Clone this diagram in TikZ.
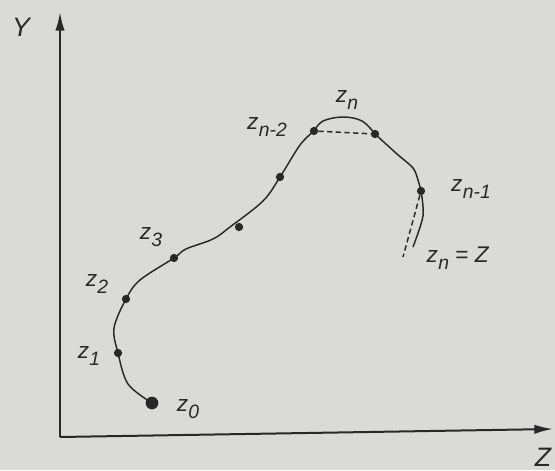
\documentclass[tikz,border=0pt]{standalone}
\usepackage{fontspec}
\setmainfont{Liberation Sans}
\usetikzlibrary{arrows.meta}
\definecolor{paper}{RGB}{218,219,215}
\definecolor{ink}{RGB}{40,40,40}
\newcommand{\zsb}[1]{\textit{z}\kern0.3pt\raisebox{-0.6ex}{\fontsize{14.5pt}{14.5pt}\selectfont\itshape #1}}
\begin{document}
\begin{tikzpicture}[x=0.75pt,y=-0.75pt,
  curve/.style={line width=1.1pt, ink},
  pt/.style={circle, fill=ink, inner sep=0pt, minimum size=6.2pt},
  bigpt/.style={circle, fill=ink, inner sep=0pt, minimum size=9.5pt},
  lab/.style={font=\fontsize{17pt}{17pt}\selectfont, inner sep=0pt, text=ink},
  axlab/.style={font=\fontsize{20pt}{20pt}\selectfont\itshape, inner sep=0pt, text=ink},
  axis/.style={line width=1.5pt, ink, -{Latex[length=14pt,width=7pt]}},
  dashline/.style={line width=1.1pt, ink, dashed, dash pattern=on 4pt off 2.5pt}]
\useasboundingbox (0,0) rectangle (555,470);
\fill[paper] (0,0) rectangle (555,470);
% axes
\coordinate (O) at (60,437);
\coordinate (Ytop) at (60,12);
\coordinate (Xend) at (553,429);
\draw[axis] (O) -- (Ytop);
\draw[axis] (O) -- (Xend);
\node[axlab] (ly) at (21,27) {Y};
\node[axlab] (lx) at (543,457) {Z};
% points
\node[bigpt] (z0) at (152,403) {};
\node[pt] (z1) at (118,353) {};
\node[pt] (z2) at (126,299) {};
\node[pt] (z3) at (174,258) {};
\node[pt] (p4) at (239,227) {};
\node[pt] (p5) at (280,177) {};
\node[pt] (zn2) at (314,131) {};
\node[pt] (zn) at (375,134) {};
\node[pt] (zn1) at (421,191) {};
% helper coordinates along the path
\coordinate (a1) at (128,384);
\coordinate (a2) at (114,328);
\coordinate (a3) at (140,280);
\coordinate (a4) at (186,249);
\coordinate (a5) at (213,239);
\coordinate (a6) at (230,227);
\coordinate (a7) at (263,201);
\coordinate (a8) at (300,145);
\coordinate (b1) at (323,121);
\coordinate (b2) at (343,117);
\coordinate (b3) at (362,121);
\coordinate (c1) at (397,154);
\coordinate (c2) at (413,168);
\coordinate (c3) at (418,180);
\coordinate (d1) at (423,216);
\coordinate (send) at (413,247);
\coordinate (dend) at (403,257);
% curve
\draw[curve] plot[smooth, tension=0.55] coordinates {(z0) (a1) (z1) (a2) (z2) (a3) (z3) (a4) (a5) (a6) (a7) (p5) (a8) (zn2)};
\draw[curve] plot[smooth, tension=0.6] coordinates {(zn2) (b1) (b2) (b3) (zn)};
\draw[curve] plot[smooth, tension=0.5] coordinates {(zn) (c1) (c2) (c3) (zn1)};
\draw[curve] plot[smooth, tension=0.5] coordinates {(zn1) (d1) (send)};
\draw[dashline] (zn2) -- (zn);
\draw[dashline] (zn1) -- (dend);
% labels
\node[lab] (lz0) at (188,409) {\zsb{0}};
\node[lab] (lz1) at (89,356) {\zsb{1}};
\node[lab] (lz2) at (97,284) {\zsb{2}};
\node[lab] (lz3) at (151,237) {\zsb{3}};
\node[lab] (lzn2) at (267,127) {\zsb{n-2}};
\node[lab] (lzn) at (347,100) {\zsb{n}};
\node[lab] (lzn1) at (471,189) {\zsb{n-1}};
\node[lab] (lzz) at (458,258) {\zsb{n}\ = \textit{Z}};
\end{tikzpicture}
\end{document}
